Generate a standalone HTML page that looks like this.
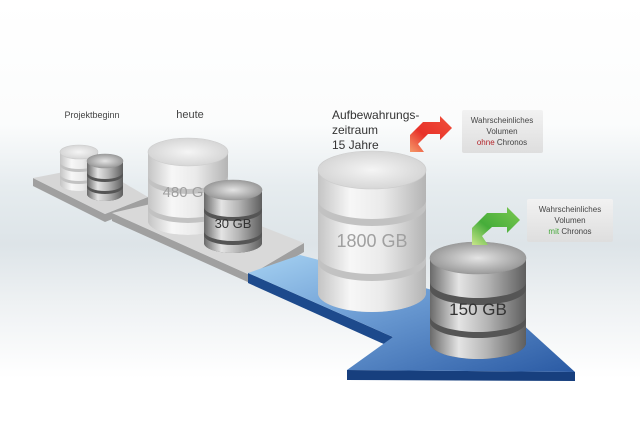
<!DOCTYPE html>
<html><head><meta charset="utf-8"><style>
html,body{margin:0;padding:0;background:#fff;}
svg{display:block;}
text{font-family:"Liberation Sans",sans-serif;}
</style></head><body>
<svg id="s" width="640" height="445" viewBox="0 0 640 445" xmlns="http://www.w3.org/2000/svg">
<defs>
<linearGradient id="bg" x1="0" y1="0" x2="0" y2="1">
<stop offset="0" stop-color="#fff"/><stop offset="0.28" stop-color="#fbfcfc"/><stop offset="0.42" stop-color="#e6ecef"/><stop offset="0.55" stop-color="#dde4e8"/><stop offset="0.68" stop-color="#eef1f3"/><stop offset="0.85" stop-color="#fff"/><stop offset="1" stop-color="#fff"/>
</linearGradient>
<linearGradient id="lg" x1="0" y1="0" x2="1" y2="0">
<stop offset="0" stop-color="#c4c4c4"/><stop offset="0.3" stop-color="#f7f7f7"/><stop offset="0.6" stop-color="#eaeaea"/><stop offset="1" stop-color="#b4b4b4"/>
</linearGradient>
<linearGradient id="dg" x1="0" y1="0" x2="1" y2="0">
<stop offset="0" stop-color="#6a6a6a"/><stop offset="0.3" stop-color="#e4e4e4"/><stop offset="0.6" stop-color="#b4b4b4"/><stop offset="1" stop-color="#5e5e5e"/>
</linearGradient>
<radialGradient id="lt" cx="0.5" cy="0.5" r="0.6"><stop offset="0" stop-color="#f5f5f5"/><stop offset="1" stop-color="#d0d0d0"/></radialGradient>
<radialGradient id="dt" cx="0.5" cy="0.5" r="0.6"><stop offset="0" stop-color="#e4e4e4"/><stop offset="1" stop-color="#8c8c8c"/></radialGradient>
<linearGradient id="blu" x1="0" y1="0" x2="1" y2="1">
<stop offset="0" stop-color="#a6d2f2"/><stop offset="0.45" stop-color="#6a9ad2"/><stop offset="1" stop-color="#2a5aa4"/>
</linearGradient>
<linearGradient id="box" x1="0" y1="0" x2="0" y2="1"><stop offset="0" stop-color="#f2f2f2"/><stop offset="1" stop-color="#dedede"/></linearGradient>
<linearGradient id="red" x1="0" y1="1" x2="1" y2="0"><stop offset="0" stop-color="#f59a6a"/><stop offset="0.4" stop-color="#e8322a"/><stop offset="1" stop-color="#f0503a"/></linearGradient>
<linearGradient id="grn" x1="0" y1="1" x2="1" y2="0"><stop offset="0" stop-color="#c8e68a"/><stop offset="0.4" stop-color="#46ad3a"/><stop offset="1" stop-color="#7cc850"/></linearGradient>
</defs>
<rect width="640" height="445" fill="url(#bg)"/>
<!-- platform 1 -->
<polygon points="33,178 33,186 105,222 148,205 148,197 105,214" fill="#a0a0a0"/>
<polygon points="33,178 95,166 148,197 105,214" fill="#d6d6d6"/>
<!-- platform 2 -->
<polygon points="112,213 112,221 250,283 304,252 304,243 250,275" fill="#a0a0a0"/>
<polygon points="112,213 185,196 304,243 250,275" fill="#d9d9d9"/>
<!-- blue arrow -->
<polygon points="248,273 248,283 386,345 393,337" fill="#1d4a8c"/>
<polygon points="347,370 347,380 575,381 575,372" fill="#173f7e"/>
<polygon points="248,273 300,255 440,292 520,322 575,372 347,370 393,337" fill="url(#blu)"/>
<g id="cyls"></g>
<!-- labels -->
<text x="92" y="118" font-size="9" fill="#444" text-anchor="middle">Projektbeginn</text>
<text x="190" y="118" font-size="11" fill="#444" text-anchor="middle">heute</text>
<text x="332" y="119" font-size="12" fill="#333">Aufbewahrungs-</text>
<text x="332" y="134" font-size="12" fill="#333">zeitraum</text>
<text x="332" y="149" font-size="12" fill="#333">15 Jahre</text>
<!-- red arrow -->
<path d="M410,152 L410,135 L423,122 L440,122 L440,116 L452,128 L440,140 L440,134 L428,134 L418,144 L424,152 Z" fill="url(#red)"/>
<!-- green arrow -->
<path d="M472,245 L472,228 L487,213 L507,213 L507,207 L520,220 L507,233 L507,227 L492,227 L482,236 L488,245 Z" fill="url(#grn)"/>
<!-- boxes -->
<rect x="462" y="110" width="81" height="43" rx="2" fill="url(#box)"/>
<text x="502" y="123" font-size="8" fill="#444" text-anchor="middle">Wahrscheinliches</text>
<text x="502" y="134" font-size="8" fill="#444" text-anchor="middle">Volumen</text>
<text x="502" y="145" font-size="8" fill="#444" text-anchor="middle"><tspan fill="#b3242a">ohne</tspan> Chronos</text>
<rect x="527" y="199" width="86" height="43" rx="2" fill="url(#box)"/>
<text x="570" y="212" font-size="8" fill="#444" text-anchor="middle">Wahrscheinliches</text>
<text x="570" y="223" font-size="8" fill="#444" text-anchor="middle">Volumen</text>
<text x="570" y="234" font-size="8" fill="#444" text-anchor="middle"><tspan fill="#45a83a">mit</tspan> Chronos</text>
</svg>
<script>
var NS="http://www.w3.org/2000/svg",g=document.getElementById("cyls");
function el(t,a){var e=document.createElementNS(NS,t);for(var k in a)e.setAttribute(k,a[k]);g.appendChild(e);return e;}
function cyl(cx,rx,ry,segs,dark,label,ly,fs){
 var body=dark?"url(#dg)":"url(#lg)",top=dark?"url(#dt)":"url(#lt)",groove=dark?"#555":"#c2c2c2";
 var y0=segs[0][0],yb=segs[segs.length-1][1];
 el("path",{d:"M"+(cx-rx)+","+y0+" L"+(cx-rx)+","+yb+" A"+rx+" "+ry+" 0 0 0 "+(cx+rx)+","+yb+" L"+(cx+rx)+","+y0+"Z",fill:groove});
 for(var i=segs.length-1;i>=0;i--){var a=segs[i][0],b=segs[i][1];
  el("path",{d:"M"+(cx-rx)+","+a+" L"+(cx-rx)+","+b+" A"+rx+" "+ry+" 0 0 0 "+(cx+rx)+","+b+" L"+(cx+rx)+","+a+" A"+rx+" "+ry+" 0 0 1 "+(cx-rx)+","+a+"Z",fill:body});}
 el("ellipse",{cx:cx,cy:y0,rx:rx,ry:ry,fill:top,stroke:dark?"#999":"#ccc","stroke-width":0.6});
 if(label){var t=el("text",{x:cx,y:ly,"font-size":fs,fill:dark?"#333":"#a0a0a0","text-anchor":"middle"});t.textContent=label;}
}
cyl(79,19,7,[[152,162],[165,174],[177,184]],false);
cyl(105,18,7,[[161,172],[175,184],[187,194]],true);
cyl(188,40,14,[[152,175],[180,204],[209,221]],false,"480 GB",197,15);
cyl(233,29,10,[[190,207],[211,231],[235,243]],true,"30 GB",228,13);
cyl(372,54,19,[[170,200],[207,255],[262,293]],false,"1800 GB",247,18);
cyl(478,48,16,[[258,282],[289,316],[322,343]],true,"150 GB",315,17);
</script>
</body></html>
